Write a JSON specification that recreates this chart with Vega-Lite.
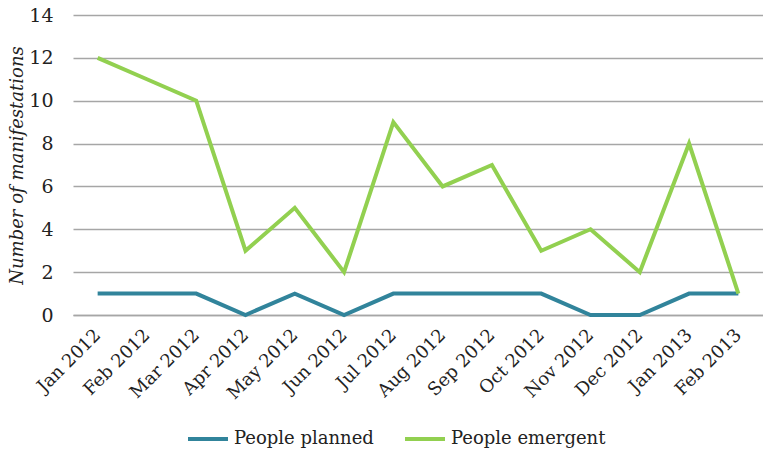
{
  "$schema": "https://vega.github.io/schema/vega-lite/v6.json",
  "width": 690,
  "height": 300,
  "autosize": {"type": "none"},
  "padding": {"left": 73, "top": 15, "right": 0, "bottom": 137},
  "background": "white",
  "config": {
    "view": {"stroke": null},
    "font": "DejaVu Serif"
  },
  "data": {
    "values": [
      {"month": "Jan 2012", "series": "People planned", "value": 1},
      {"month": "Feb 2012", "series": "People planned", "value": 1},
      {"month": "Mar 2012", "series": "People planned", "value": 1},
      {"month": "Apr 2012", "series": "People planned", "value": 0},
      {"month": "May 2012", "series": "People planned", "value": 1},
      {"month": "Jun 2012", "series": "People planned", "value": 0},
      {"month": "Jul 2012", "series": "People planned", "value": 1},
      {"month": "Aug 2012", "series": "People planned", "value": 1},
      {"month": "Sep 2012", "series": "People planned", "value": 1},
      {"month": "Oct 2012", "series": "People planned", "value": 1},
      {"month": "Nov 2012", "series": "People planned", "value": 0},
      {"month": "Dec 2012", "series": "People planned", "value": 0},
      {"month": "Jan 2013", "series": "People planned", "value": 1},
      {"month": "Feb 2013", "series": "People planned", "value": 1},
      {"month": "Jan 2012", "series": "People emergent", "value": 12},
      {"month": "Feb 2012", "series": "People emergent", "value": 11},
      {"month": "Mar 2012", "series": "People emergent", "value": 10},
      {"month": "Apr 2012", "series": "People emergent", "value": 3},
      {"month": "May 2012", "series": "People emergent", "value": 5},
      {"month": "Jun 2012", "series": "People emergent", "value": 2},
      {"month": "Jul 2012", "series": "People emergent", "value": 9},
      {"month": "Aug 2012", "series": "People emergent", "value": 6},
      {"month": "Sep 2012", "series": "People emergent", "value": 7},
      {"month": "Oct 2012", "series": "People emergent", "value": 3},
      {"month": "Nov 2012", "series": "People emergent", "value": 4},
      {"month": "Dec 2012", "series": "People emergent", "value": 2},
      {"month": "Jan 2013", "series": "People emergent", "value": 8},
      {"month": "Feb 2013", "series": "People emergent", "value": 1}
    ]
  },
  "mark": {"type": "line", "strokeWidth": 4, "strokeJoin": "miter"},
  "encoding": {
    "x": {
      "field": "month",
      "type": "ordinal",
      "sort": null,
      "scale": {"type": "point", "padding": 0.5},
      "axis": {
        "title": null,
        "labelAngle": -45,
        "labelAlign": "right",
        "labelBaseline": "middle",
        "labelFont": "DejaVu Serif",
        "labelFontSize": 18,
        "labelColor": "#222222",
        "labelPadding": 17,
        "ticks": false,
        "domain": true,
        "domainColor": "#A6A6A6",
        "domainWidth": 1.5,
        "grid": false
      }
    },
    "y": {
      "field": "value",
      "type": "quantitative",
      "scale": {"domain": [0, 14], "nice": false},
      "axis": {
        "title": "Number of manifestations",
        "titleFont": "DejaVu Serif",
        "titleFontStyle": "italic",
        "titleFontWeight": "normal",
        "titleFontSize": 18,
        "titleColor": "#222222",
        "titleX": -47,
        "values": [0, 2, 4, 6, 8, 10, 12, 14],
        "labelFont": "DejaVu Serif",
        "labelFontSize": 19,
        "labelColor": "#222222",
        "labelPadding": 20,
        "ticks": false,
        "domain": false,
        "grid": true,
        "gridColor": "#A6A6A6",
        "gridWidth": 1.5
      }
    },
    "color": {
      "field": "series",
      "type": "nominal",
      "scale": {"domain": ["People planned", "People emergent"], "range": ["#31849B", "#92D050"]},
      "legend": {
        "title": null,
        "orient": "none",
        "direction": "horizontal",
        "legendX": 113,
        "legendY": 402,
        "symbolType": "stroke",
        "symbolSize": 1600,
        "symbolStrokeWidth": 4,
        "labelFont": "DejaVu Serif",
        "labelFontSize": 18,
        "labelColor": "#222222",
        "labelOffset": 4,
        "columnPadding": 23,
        "labelLimit": 300
      }
    }
  }
}
